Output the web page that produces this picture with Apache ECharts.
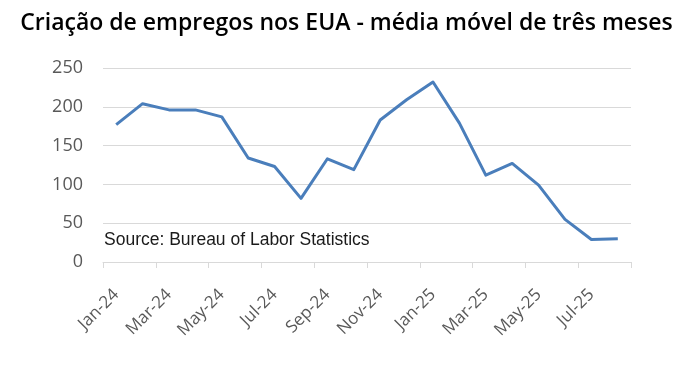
<!DOCTYPE html>
<html>
<head>
<meta charset="utf-8">
<script src="https://cdn.jsdelivr.net/npm/echarts@6/dist/echarts.min.js"></script>
<style>
html,body{margin:0;padding:0;background:#fff;}
#chart{width:693px;height:367px;}
</style>
</head>
<body>
<div id="chart"></div>
<script>
var categories = ["Jan-24","Feb-24","Mar-24","Apr-24","May-24","Jun-24","Jul-24","Aug-24","Sep-24","Oct-24","Nov-24","Dec-24","Jan-25","Feb-25","Mar-25","Apr-25","May-25","Jun-25","Jul-25","Aug-25"];
var jobs = [177,204,196,196,187,134,123,82,133,119,183,209,232,179,112,127,99,55,29,30];
var titleText = "Criação de empregos nos EUA - média móvel de três meses";
var sourceText = "Source: Bureau of Labor Statistics";

var chart = echarts.init(document.getElementById('chart'));
chart.setOption({
  animation: false,
  backgroundColor: '#ffffff',
  title: {
    text: titleText,
    left: 'center',
    top: 7,
    textStyle: {fontFamily: 'Open Sans', fontWeight: 600, fontSize: 23, color: '#000000'}
  },
  graphic: [{
    type: 'text',
    left: 104,
    top: 231,
    style: {text: sourceText, fontFamily: 'Liberation Sans, Arial', fontSize: 17.5, fill: '#1a1a1a'}
  }],
  grid: {left: 103, right: 62, top: 68, bottom: 105, containLabel: false},
  xAxis: {
    type: 'category',
    data: categories,
    boundaryGap: true,
    axisLine: {show: true, lineStyle: {color: '#d9d9d9', width: 1}},
    axisTick: {show: true, interval: 1, length: 6, lineStyle: {color: '#d9d9d9'}},
    axisLabel: {interval: 1, rotate: 45, fontFamily: 'Open Sans', fontSize: 17, color: '#595959', margin: 30},
    splitLine: {show: false}
  },
  yAxis: {
    type: 'value',
    min: 0, max: 250, interval: 50,
    axisLine: {show: false},
    axisTick: {show: false},
    axisLabel: {fontFamily: 'Open Sans', fontSize: 18, color: '#595959', margin: 20},
    splitLine: {lineStyle: {color: '#d9d9d9', width: 1}}
  },
  series: [{
    type: 'line',
    data: jobs,
    symbol: 'none',
    smooth: false,
    lineStyle: {color: '#4a7ebb', width: 3, join: 'round'},
    itemStyle: {color: '#4a7ebb'}
  }]
});
</script>
</body>
</html>
